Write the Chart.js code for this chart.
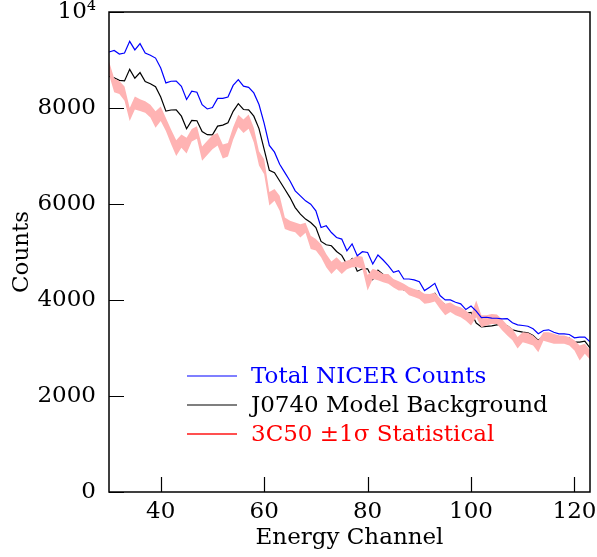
<!DOCTYPE html>
<html>
<head>
<meta charset="utf-8">
<script src="https://cdn.jsdelivr.net/npm/chart.js@4.4.1/dist/chart.umd.min.js"></script>
<style>
html,body{margin:0;padding:0;background:#fff;}
#wrap{width:597px;height:557px;}
</style>
</head>
<body>
<div id="wrap"><canvas id="c" width="597" height="557" style="width:597px;height:557px"></canvas></div>
<script>
const channels = [30,31,32,33,34,35,36,37,38,39,40,41,42,43,44,45,46,47,48,49,50,51,52,53,54,55,56,57,58,59,60,61,62,63,64,65,66,67,68,69,70,71,72,73,74,75,76,77,78,79,80,81,82,83,84,85,86,87,88,89,90,91,92,93,94,95,96,97,98,99,100,101,102,103,104,105,106,107,108,109,110,111,112,113,114,115,116,117,118,119,120,121,122,123];
const totalCounts = [
9166,9200,9125,9145,9388,9210,9340,9145,9100,9040,
8834,8522,8557,8560,8450,8177,8350,8330,8070,7980,
8010,8200,8200,8230,8470,8590,8454,8430,8314,8072,
7680,7220,7080,6827,6653,6480,6273,6169,6065,5996,
5857,5510,5546,5406,5303,5269,5026,5170,4922,5006,
4991,4750,4937,4833,4715,4576,4611,4438,4438,4418,
4382,4196,4264,4347,4092,4002,4002,3953,3919,3801,
3874,3770,3635,3641,3624,3620,3608,3614,3525,3483,
3469,3454,3400,3296,3365,3379,3329,3296,3296,3282,
3213,3226,3226,3130];
const modelBackground = [
8660,8630,8575,8565,8805,8620,8737,8550,8505,8443,
8228,7934,7958,7962,7830,7567,7740,7735,7510,7445,
7440,7622,7643,7691,7930,8090,7969,7960,7830,7570,
7140,6700,6650,6480,6308,6134,5926,5788,5685,5614,
5510,5220,5150,5130,5010,4930,4740,4860,4600,4650,
4650,4430,4620,4530,4430,4300,4360,4210,4220,4200,
4180,4010,4080,4140,3980,3900,3890,3840,3800,3720,
3740,3520,3440,3450,3460,3480,3490,3460,3380,3350,
3330,3317,3261,3160,3247,3296,3261,3240,3226,3205,
3122,3122,3143,3000];
const statLow = [
8700,8330,8290,8150,7730,7970,7940,7900,7800,7590,
7730,7520,7250,7000,7170,7050,7300,7360,6900,7020,
7140,7220,6950,6990,7340,7600,7480,7570,7280,6800,
6620,5970,6070,5860,5480,5440,5410,5300,5400,5060,
5030,4890,4680,4540,4650,4540,4640,4680,4680,4650,
4200,4440,4410,4370,4340,4260,4200,4200,4100,4060,
4020,3920,3940,3970,3820,3680,3750,3680,3640,3570,
3470,3640,3430,3470,3500,3500,3370,3260,3160,2990,
3120,3090,3050,2910,3150,3120,3090,3090,3090,3050,
2950,2740,2880,2760];
const statHigh = [
8970,8620,8560,8450,8000,8240,8180,8140,8070,7930,
8030,7790,7550,7330,7450,7380,7560,7620,7200,7320,
7430,7480,7240,7270,7600,7860,7760,7865,7590,7100,
6930,6250,6310,6170,5720,5650,5615,5580,5610,5340,
5270,5160,4960,4800,4890,4780,4820,4860,4920,4900,
4520,4650,4610,4540,4540,4440,4390,4340,4270,4230,
4200,4130,4127,4150,4030,3920,3950,3880,3850,3780,
3690,3990,3680,3680,3710,3700,3600,3480,3400,3230,
3330,3320,3260,3160,3330,3330,3296,3260,3260,3226,
3160,3050,3090,2960];
const xTickValues = [40,60,80,100,120];
const yTickValues = [0,2000,4000,6000,8000,10000];
const yTickLabels = ['0','2000','4000','6000','8000','10\u2074'];
const legendLabels = ['Total NICER Counts','J0740 Model Background','3C50 \u00b11\u03c3 Statistical'];
const legendTextColors = ['#0000ff','#000000','#ff0000'];
const legendLineColors = ['#0000ff','#000000','#ff5050'];

const FONT = 'DejaVu Serif';
const FS = 23;
const toXY = arr => channels.map((c,i)=>({x:c,y:arr[i]}));

const framePlugin = {
  id:'frame',
  afterDraw(chart){
    const {ctx, chartArea:a, scales} = chart;
    ctx.save();
    ctx.strokeStyle = '#000';
    ctx.lineWidth = 1.5;
    ctx.strokeRect(a.left, a.top, a.right-a.left, a.bottom-a.top);
    ctx.lineWidth = 1.2;
    ctx.beginPath();
    xTickValues.forEach(v=>{
      const px = Math.round(scales.x.getPixelForValue(v))+0.5;
      ctx.moveTo(px, a.bottom); ctx.lineTo(px, a.bottom-15);
    });
    yTickValues.forEach(v=>{
      const py = Math.round(scales.y.getPixelForValue(v))+0.5;
      ctx.moveTo(a.left, py); ctx.lineTo(a.left+15, py);
    });
    ctx.stroke();
    // legend
    const rows = [376,405,434];
    ctx.font = FS + 'px "' + FONT + '"';
    ctx.textBaseline = 'middle';
    ctx.textAlign = 'left';
    legendLabels.forEach((t,i)=>{
      ctx.strokeStyle = legendLineColors[i];
      ctx.lineWidth = i===2 ? 2 : 1.2;
      ctx.beginPath();
      ctx.moveTo(187, rows[i]); ctx.lineTo(237, rows[i]);
      ctx.stroke();
      ctx.fillStyle = legendTextColors[i];
      ctx.fillText(t, 251, rows[i]+1);
    });
    ctx.restore();
  }
};

new Chart(document.getElementById('c'), {
  type:'line',
  data:{
    datasets:[
      {label:legendLabels[0], data:toXY(totalCounts), borderColor:'#0000ff', borderWidth:1.2, pointRadius:0, fill:false, tension:0},
      {label:'3C50 low', data:toXY(statLow), borderColor:'rgba(0,0,0,0)', borderWidth:0, pointRadius:0, fill:false, tension:0},
      {label:legendLabels[2], data:toXY(statHigh), borderColor:'rgba(0,0,0,0)', borderWidth:0, pointRadius:0, backgroundColor:'#ffb3b3', fill:'-1', tension:0},
      {label:legendLabels[1], data:toXY(modelBackground), borderColor:'#000000', borderWidth:1.2, pointRadius:0, fill:false, tension:0}
    ]
  },
  options:{
    responsive:false,
    animation:false,
    devicePixelRatio:1,
    layout:{padding:{left:0,right:7,top:12,bottom:0}},
    plugins:{legend:{display:false}, tooltip:{enabled:false}, title:{display:false}},
    scales:{
      x:{
        type:'linear', min:30, max:123, position:'bottom',
        grid:{display:false, drawTicks:false, tickLength:0},
        border:{display:false},
        ticks:{color:'#000', font:{family:FONT, size:FS}, padding:6, maxRotation:0, autoSkip:false},
        afterBuildTicks(s){ s.ticks = xTickValues.map(v=>({value:v})); },
        afterFit(s){ s.height = 65; s.paddingLeft = 0; s.paddingRight = 0; },
        title:{display:true, text:'Energy Channel', color:'#000', font:{family:FONT, size:FS}, padding:{top:0,bottom:5}}
      },
      y:{
        type:'linear', min:0, max:10000, position:'left',
        grid:{display:false, drawTicks:false, tickLength:0},
        border:{display:false},
        ticks:{color:'#000', font:{family:FONT, size:FS}, padding:13, autoSkip:false,
          callback:(v)=>{ const i = yTickValues.indexOf(v); return i>=0 ? yTickLabels[i] : ''; }},
        afterBuildTicks(s){ s.ticks = yTickValues.map(v=>({value:v})); },
        afterFit(s){ s.width = 109; s.paddingTop = 0; s.paddingBottom = 0; },
        title:{display:true, text:'Counts', color:'#000', font:{family:FONT, size:FS}, padding:{top:8,bottom:0}}
      }
    }
  },
  plugins:[framePlugin]
});
</script>
</body>
</html>
